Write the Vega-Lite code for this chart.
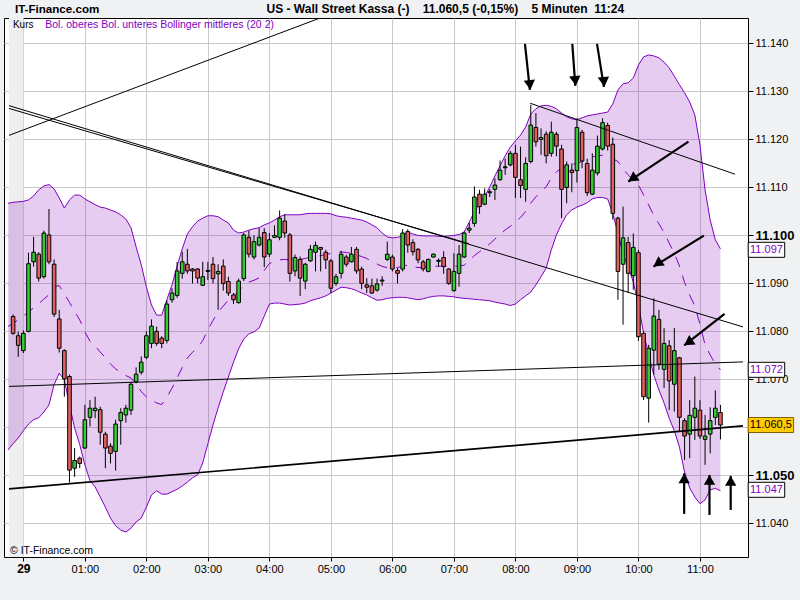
{
"$schema":"https://vega.github.io/schema/vega-lite/v6.json",
"width":744,"height":539,"autosize":"none",
"padding":{"left":4,"top":18,"right":52,"bottom":43},
"background":"#f0f1f3",
"config":{"font":"Liberation Sans","view":{"fill":"white","stroke":"black","strokeWidth":1}},
"datasets":{
"candles":[
{"time":"2010/10/28 23:50","open":11083.1,"high":11083.5,"low":11079.3,"close":11079.6},
{"time":"2010/10/28 23:55","open":11079.1,"high":11080,"low":11074.7,"close":11077.1},
{"time":"2010/10/29 00:00","open":11076,"high":11080.2,"low":11075.5,"close":11079.6},
{"time":"2010/10/29 00:05","open":11080,"high":11096.4,"low":11079.8,"close":11094.1},
{"time":"2010/10/29 00:10","open":11094.5,"high":11099.7,"low":11093.5,"close":11096.5},
{"time":"2010/10/29 00:15","open":11096.1,"high":11096.5,"low":11090.4,"close":11091.1},
{"time":"2010/10/29 00:20","open":11091.4,"high":11101,"low":11091,"close":11100.5},
{"time":"2010/10/29 00:25","open":11100.1,"high":11105.5,"low":11094,"close":11094.5},
{"time":"2010/10/29 00:30","open":11094,"high":11095,"low":11083,"close":11083.6},
{"time":"2010/10/29 00:35","open":11082.6,"high":11084.5,"low":11075.6,"close":11076.5},
{"time":"2010/10/29 00:40","open":11076,"high":11076.3,"low":11066.4,"close":11070.1},
{"time":"2010/10/29 00:45","open":11070.6,"high":11071,"low":11048.5,"close":11051.1},
{"time":"2010/10/29 00:50","open":11051.5,"high":11055.7,"low":11049.7,"close":11053.1},
{"time":"2010/10/29 00:55","open":11053.6,"high":11053.9,"low":11051.5,"close":11052.5},
{"time":"2010/10/29 01:00","open":11055.7,"high":11064.7,"low":11055.5,"close":11061.6},
{"time":"2010/10/29 01:05","open":11062.1,"high":11065.7,"low":11060.2,"close":11064},
{"time":"2010/10/29 01:10","open":11063.5,"high":11066.4,"low":11061.9,"close":11064},
{"time":"2010/10/29 01:15","open":11063.7,"high":11064.3,"low":11056.4,"close":11059},
{"time":"2010/10/29 01:20","open":11058.6,"high":11059.1,"low":11051.5,"close":11055.7},
{"time":"2010/10/29 01:25","open":11056.1,"high":11056.7,"low":11052.5,"close":11054.6},
{"time":"2010/10/29 01:30","open":11055,"high":11061.6,"low":11051,"close":11060.7},
{"time":"2010/10/29 01:35","open":11061.4,"high":11064,"low":11056.4,"close":11063.1},
{"time":"2010/10/29 01:40","open":11062.6,"high":11064.7,"low":11061,"close":11064},
{"time":"2010/10/29 01:45","open":11063.6,"high":11069.5,"low":11062.6,"close":11069},
{"time":"2010/10/29 01:50","open":11069.5,"high":11072.5,"low":11069.2,"close":11071.1},
{"time":"2010/10/29 01:55","open":11071.5,"high":11074.8,"low":11071,"close":11073.6},
{"time":"2010/10/29 02:00","open":11074.6,"high":11080,"low":11074.2,"close":11079.1},
{"time":"2010/10/29 02:05","open":11077.5,"high":11082.5,"low":11076.5,"close":11081.1},
{"time":"2010/10/29 02:10","open":11080,"high":11081,"low":11077,"close":11077.5},
{"time":"2010/10/29 02:15","open":11078.6,"high":11079,"low":11076.5,"close":11077.5},
{"time":"2010/10/29 02:20","open":11078.1,"high":11086.5,"low":11077.5,"close":11085.7},
{"time":"2010/10/29 02:25","open":11086.6,"high":11089,"low":11086,"close":11088},
{"time":"2010/10/29 02:30","open":11087.5,"high":11094.5,"low":11087,"close":11092.6},
{"time":"2010/10/29 02:35","open":11092.1,"high":11096.6,"low":11091,"close":11094.5},
{"time":"2010/10/29 02:40","open":11094,"high":11097.2,"low":11092,"close":11092.6},
{"time":"2010/10/29 02:45","open":11093,"high":11093.2,"low":11090,"close":11092.6},
{"time":"2010/10/29 02:50","open":11093,"high":11093.2,"low":11090,"close":11091.1},
{"time":"2010/10/29 02:55","open":11089.6,"high":11094.5,"low":11089.5,"close":11091.4},
{"time":"2010/10/29 03:00","open":11092.5,"high":11094.5,"low":11090.7,"close":11092.7},
{"time":"2010/10/29 03:05","open":11094,"high":11095.5,"low":11090,"close":11091},
{"time":"2010/10/29 03:10","open":11092,"high":11094,"low":11084.5,"close":11092.5},
{"time":"2010/10/29 03:15","open":11093.6,"high":11095,"low":11088.5,"close":11090},
{"time":"2010/10/29 03:20","open":11090.4,"high":11091.4,"low":11087.4,"close":11088},
{"time":"2010/10/29 03:25","open":11087.6,"high":11088,"low":11085.7,"close":11086.6},
{"time":"2010/10/29 03:30","open":11086,"high":11091,"low":11085.8,"close":11090.5},
{"time":"2010/10/29 03:35","open":11091,"high":11100.5,"low":11090.5,"close":11100.1},
{"time":"2010/10/29 03:40","open":11099.6,"high":11101,"low":11095.4,"close":11096.1},
{"time":"2010/10/29 03:45","open":11095.5,"high":11100,"low":11095,"close":11098.7},
{"time":"2010/10/29 03:50","open":11098,"high":11101.5,"low":11097.7,"close":11099.6},
{"time":"2010/10/29 03:55","open":11100.6,"high":11101.5,"low":11093.4,"close":11095.5},
{"time":"2010/10/29 04:00","open":11096.1,"high":11100.5,"low":11095.5,"close":11099.1},
{"time":"2010/10/29 04:05","open":11099.6,"high":11102.1,"low":11099.5,"close":11100},
{"time":"2010/10/29 04:10","open":11099.6,"high":11105.2,"low":11099,"close":11103.6},
{"time":"2010/10/29 04:15","open":11103,"high":11104.4,"low":11099.5,"close":11100.5},
{"time":"2010/10/29 04:20","open":11100.1,"high":11100.5,"low":11090.4,"close":11092.1},
{"time":"2010/10/29 04:25","open":11092.6,"high":11096,"low":11091.5,"close":11095.4},
{"time":"2010/10/29 04:30","open":11095,"high":11095.6,"low":11087.4,"close":11091.1},
{"time":"2010/10/29 04:35","open":11090.5,"high":11094.3,"low":11088.8,"close":11094},
{"time":"2010/10/29 04:40","open":11094.7,"high":11098,"low":11094.5,"close":11097.1},
{"time":"2010/10/29 04:45","open":11096.5,"high":11098.7,"low":11092.5,"close":11097.9},
{"time":"2010/10/29 04:50","open":11097.5,"high":11097.6,"low":11092.5,"close":11097.1},
{"time":"2010/10/29 04:55","open":11096.5,"high":11097,"low":11093,"close":11094.9},
{"time":"2010/10/29 05:00","open":11094.7,"high":11095.1,"low":11088,"close":11089},
{"time":"2010/10/29 05:05","open":11090,"high":11092,"low":11089.5,"close":11091.4},
{"time":"2010/10/29 05:10","open":11092.1,"high":11096.8,"low":11091,"close":11096.1},
{"time":"2010/10/29 05:15","open":11095.5,"high":11096,"low":11093.5,"close":11094},
{"time":"2010/10/29 05:20","open":11094.5,"high":11097.6,"low":11094.4,"close":11096.1},
{"time":"2010/10/29 05:25","open":11097.1,"high":11097.6,"low":11092,"close":11092.6},
{"time":"2010/10/29 05:30","open":11093,"high":11093.5,"low":11088.8,"close":11090},
{"time":"2010/10/29 05:35","open":11089.7,"high":11091.1,"low":11088,"close":11089.2},
{"time":"2010/10/29 05:40","open":11089.5,"high":11091,"low":11087.8,"close":11088},
{"time":"2010/10/29 05:45","open":11088.6,"high":11091,"low":11088.3,"close":11089.9},
{"time":"2010/10/29 05:50","open":11090.5,"high":11091.5,"low":11089.5,"close":11090.7},
{"time":"2010/10/29 05:55","open":11095,"high":11098.7,"low":11094.7,"close":11096.1},
{"time":"2010/10/29 06:00","open":11095.5,"high":11096,"low":11092.5,"close":11093},
{"time":"2010/10/29 06:05","open":11092.7,"high":11093.2,"low":11090,"close":11092.1},
{"time":"2010/10/29 06:10","open":11093,"high":11101.3,"low":11092.5,"close":11100.5},
{"time":"2010/10/29 06:15","open":11100.8,"high":11101.3,"low":11096.4,"close":11098},
{"time":"2010/10/29 06:20","open":11098.5,"high":11099.2,"low":11095.8,"close":11096.6},
{"time":"2010/10/29 06:25","open":11097.1,"high":11097.4,"low":11094.2,"close":11094.9},
{"time":"2010/10/29 06:30","open":11094.5,"high":11094.9,"low":11092.5,"close":11093},
{"time":"2010/10/29 06:35","open":11092.5,"high":11095.2,"low":11092.3,"close":11095},
{"time":"2010/10/29 06:40","open":11095.5,"high":11096.2,"low":11095.4,"close":11096.1},
{"time":"2010/10/29 06:45","open":11094.6,"high":11095.2,"low":11093.5,"close":11094.8},
{"time":"2010/10/29 06:50","open":11095.4,"high":11096.7,"low":11092,"close":11093.5},
{"time":"2010/10/29 06:55","open":11093,"high":11093.2,"low":11089.7,"close":11090},
{"time":"2010/10/29 07:00","open":11088.5,"high":11096.3,"low":11088.3,"close":11092.5},
{"time":"2010/10/29 07:05","open":11092.1,"high":11098,"low":11089.3,"close":11096.1},
{"time":"2010/10/29 07:10","open":11095.5,"high":11100.8,"low":11095.3,"close":11100.5},
{"time":"2010/10/29 07:15","open":11101.1,"high":11102.6,"low":11100.5,"close":11101.5},
{"time":"2010/10/29 07:20","open":11102.5,"high":11110.2,"low":11101.8,"close":11108},
{"time":"2010/10/29 07:25","open":11108.6,"high":11109.5,"low":11104.5,"close":11106},
{"time":"2010/10/29 07:30","open":11106.5,"high":11109.8,"low":11106.3,"close":11108.6},
{"time":"2010/10/29 07:35","open":11108.9,"high":11109.6,"low":11108,"close":11109.1},
{"time":"2010/10/29 07:40","open":11109.6,"high":11111.9,"low":11107.4,"close":11110.5},
{"time":"2010/10/29 07:45","open":11111.6,"high":11115.6,"low":11111.4,"close":11113.6},
{"time":"2010/10/29 07:50","open":11114.1,"high":11116,"low":11112.6,"close":11114.3},
{"time":"2010/10/29 07:55","open":11114.7,"high":11117.6,"low":11114.4,"close":11117.1},
{"time":"2010/10/29 08:00","open":11117.1,"high":11118.9,"low":11107.8,"close":11112.1},
{"time":"2010/10/29 08:05","open":11111.6,"high":11118.5,"low":11107.8,"close":11110.4},
{"time":"2010/10/29 08:10","open":11109.6,"high":11116.3,"low":11107,"close":11115},
{"time":"2010/10/29 08:15","open":11115.4,"high":11127.2,"low":11115,"close":11123},
{"time":"2010/10/29 08:20","open":11122.5,"high":11125.5,"low":11118.5,"close":11119.5},
{"time":"2010/10/29 08:25","open":11120,"high":11122.3,"low":11116.8,"close":11120.4},
{"time":"2010/10/29 08:30","open":11121.1,"high":11121.7,"low":11115,"close":11116.6},
{"time":"2010/10/29 08:35","open":11117.1,"high":11123.7,"low":11116.4,"close":11121.5},
{"time":"2010/10/29 08:40","open":11121.1,"high":11121.6,"low":11116.5,"close":11118.6},
{"time":"2010/10/29 08:45","open":11118,"high":11118.9,"low":11103.6,"close":11109.6},
{"time":"2010/10/29 08:50","open":11110,"high":11115.4,"low":11106.7,"close":11114.7},
{"time":"2010/10/29 08:55","open":11113.6,"high":11115,"low":11109,"close":11113.1},
{"time":"2010/10/29 09:00","open":11113.5,"high":11124.4,"low":11111,"close":11122.5},
{"time":"2010/10/29 09:05","open":11121.5,"high":11122,"low":11114,"close":11115.5},
{"time":"2010/10/29 09:10","open":11115,"high":11116,"low":11108.2,"close":11108.9},
{"time":"2010/10/29 09:15","open":11108.6,"high":11117.1,"low":11108.4,"close":11113.6},
{"time":"2010/10/29 09:20","open":11113,"high":11120.8,"low":11112.5,"close":11118.6},
{"time":"2010/10/29 09:25","open":11118,"high":11124.4,"low":11117.7,"close":11123.5},
{"time":"2010/10/29 09:30","open":11122.9,"high":11123.5,"low":11117.7,"close":11118.6},
{"time":"2010/10/29 09:35","open":11119,"high":11120.4,"low":11103.3,"close":11104.6},
{"time":"2010/10/29 09:40","open":11103.6,"high":11103.9,"low":11086.6,"close":11092.5},
{"time":"2010/10/29 09:45","open":11094,"high":11106,"low":11081.4,"close":11099.5},
{"time":"2010/10/29 09:50","open":11098.5,"high":11099.7,"low":11088,"close":11092.1},
{"time":"2010/10/29 09:55","open":11091.6,"high":11100.4,"low":11088.7,"close":11097.5},
{"time":"2010/10/29 10:00","open":11096.4,"high":11097,"low":11078,"close":11078.9},
{"time":"2010/10/29 10:05","open":11079.6,"high":11080,"low":11065.7,"close":11066.4},
{"time":"2010/10/29 10:10","open":11066.1,"high":11077.2,"low":11061,"close":11076.5},
{"time":"2010/10/29 10:15","open":11076.1,"high":11086.9,"low":11071,"close":11083.2},
{"time":"2010/10/29 10:20","open":11082.5,"high":11084.5,"low":11072,"close":11073.2},
{"time":"2010/10/29 10:25","open":11072.1,"high":11080.7,"low":11068.2,"close":11077.5},
{"time":"2010/10/29 10:30","open":11077,"high":11078.2,"low":11063.6,"close":11069.7},
{"time":"2010/10/29 10:35","open":11069,"high":11080.7,"low":11063.3,"close":11076},
{"time":"2010/10/29 10:40","open":11074.5,"high":11074.7,"low":11059.1,"close":11062.1},
{"time":"2010/10/29 10:45","open":11061.4,"high":11061.9,"low":11053.2,"close":11058.2},
{"time":"2010/10/29 10:50","open":11058.6,"high":11065.7,"low":11053.6,"close":11062.5},
{"time":"2010/10/29 10:55","open":11062.1,"high":11070.6,"low":11057.4,"close":11064},
{"time":"2010/10/29 11:00","open":11063.6,"high":11065.7,"low":11057.6,"close":11058.2},
{"time":"2010/10/29 11:05","open":11057.5,"high":11062.6,"low":11052.2,"close":11058.2},
{"time":"2010/10/29 11:10","open":11058.6,"high":11064.2,"low":11054.6,"close":11061.4},
{"time":"2010/10/29 11:15","open":11062.1,"high":11067.7,"low":11060.5,"close":11064},
{"time":"2010/10/29 11:20","open":11063.1,"high":11064.7,"low":11057.5,"close":11060.5}
],
"bands":[
{"time":"2010/10/28 23:45","upper":11106.7,"lower":11055.3,"middle":11081},
{"time":"2010/10/28 23:50","upper":11106.9,"lower":11056.6,"middle":11081.75},
{"time":"2010/10/28 23:55","upper":11107,"lower":11057.8,"middle":11082.4},
{"time":"2010/10/29 00:00","upper":11107.1,"lower":11059.3,"middle":11083.2},
{"time":"2010/10/29 00:05","upper":11107.4,"lower":11060.7,"middle":11084.05},
{"time":"2010/10/29 00:10","upper":11108.2,"lower":11061.6,"middle":11084.9},
{"time":"2010/10/29 00:15","upper":11109.5,"lower":11062,"middle":11085.75},
{"time":"2010/10/29 00:20","upper":11110.3,"lower":11063.2,"middle":11086.75},
{"time":"2010/10/29 00:25","upper":11110.6,"lower":11064.7,"middle":11087.65},
{"time":"2010/10/29 00:30","upper":11109.7,"lower":11068.9,"middle":11089.3},
{"time":"2010/10/29 00:35","upper":11107.8,"lower":11071.3,"middle":11089.55},
{"time":"2010/10/29 00:40","upper":11105.7,"lower":11069.9,"middle":11087.8},
{"time":"2010/10/29 00:45","upper":11107.4,"lower":11064.7,"middle":11086.05},
{"time":"2010/10/29 00:50","upper":11108.4,"lower":11059.9,"middle":11084.15},
{"time":"2010/10/29 00:55","upper":11108.4,"lower":11056.4,"middle":11082.4},
{"time":"2010/10/29 01:00","upper":11107.6,"lower":11052.2,"middle":11079.9},
{"time":"2010/10/29 01:05","upper":11107,"lower":11048.9,"middle":11077.95},
{"time":"2010/10/29 01:10","upper":11106.4,"lower":11047.6,"middle":11077},
{"time":"2010/10/29 01:15","upper":11105.9,"lower":11045.5,"middle":11075.7},
{"time":"2010/10/29 01:20","upper":11105.7,"lower":11043.4,"middle":11074.55},
{"time":"2010/10/29 01:25","upper":11105.3,"lower":11041.1,"middle":11073.2},
{"time":"2010/10/29 01:30","upper":11104.9,"lower":11039.5,"middle":11072.2},
{"time":"2010/10/29 01:35","upper":11104.3,"lower":11038.6,"middle":11071.45},
{"time":"2010/10/29 01:40","upper":11103.4,"lower":11038.2,"middle":11070.8},
{"time":"2010/10/29 01:45","upper":11101.6,"lower":11039,"middle":11070.3},
{"time":"2010/10/29 01:50","upper":11097.6,"lower":11040.3,"middle":11068.95},
{"time":"2010/10/29 01:55","upper":11093.9,"lower":11041.1,"middle":11067.5},
{"time":"2010/10/29 02:00","upper":11089.3,"lower":11043.4,"middle":11066.35},
{"time":"2010/10/29 02:05","upper":11085.5,"lower":11045.9,"middle":11065.7},
{"time":"2010/10/29 02:10","upper":11083.4,"lower":11046.8,"middle":11065.1},
{"time":"2010/10/29 02:15","upper":11083.4,"lower":11046.1,"middle":11064.75},
{"time":"2010/10/29 02:20","upper":11086.6,"lower":11046.1,"middle":11066.35},
{"time":"2010/10/29 02:25","upper":11089.7,"lower":11046.6,"middle":11068.15},
{"time":"2010/10/29 02:30","upper":11093.6,"lower":11047.1,"middle":11070.35},
{"time":"2010/10/29 02:35","upper":11097.2,"lower":11047.8,"middle":11072.5},
{"time":"2010/10/29 02:40","upper":11100.3,"lower":11048.6,"middle":11074.45},
{"time":"2010/10/29 02:45","upper":11101.8,"lower":11049.5,"middle":11075.65},
{"time":"2010/10/29 02:50","upper":11103,"lower":11050.1,"middle":11076.55},
{"time":"2010/10/29 02:55","upper":11103.6,"lower":11052.6,"middle":11078.1},
{"time":"2010/10/29 03:00","upper":11104.1,"lower":11056.6,"middle":11080.35},
{"time":"2010/10/29 03:05","upper":11104.1,"lower":11060.5,"middle":11082.3},
{"time":"2010/10/29 03:10","upper":11103.9,"lower":11064.1,"middle":11084},
{"time":"2010/10/29 03:15","upper":11103.2,"lower":11067.4,"middle":11085.3},
{"time":"2010/10/29 03:20","upper":11102.6,"lower":11070.5,"middle":11086.55},
{"time":"2010/10/29 03:25","upper":11101.1,"lower":11073.6,"middle":11087.35},
{"time":"2010/10/29 03:30","upper":11100.5,"lower":11076.4,"middle":11088.45},
{"time":"2010/10/29 03:35","upper":11100.7,"lower":11078.4,"middle":11089.55},
{"time":"2010/10/29 03:40","upper":11101.1,"lower":11079.5,"middle":11090.3},
{"time":"2010/10/29 03:45","upper":11101.4,"lower":11079.9,"middle":11090.65},
{"time":"2010/10/29 03:50","upper":11101.6,"lower":11080.7,"middle":11091.15},
{"time":"2010/10/29 03:55","upper":11102.2,"lower":11083.2,"middle":11092.7},
{"time":"2010/10/29 04:00","upper":11102.6,"lower":11085.7,"middle":11094.15},
{"time":"2010/10/29 04:05","upper":11103.2,"lower":11085.9,"middle":11094.55},
{"time":"2010/10/29 04:10","upper":11103.9,"lower":11085.9,"middle":11094.9},
{"time":"2010/10/29 04:15","upper":11104.3,"lower":11085.7,"middle":11095},
{"time":"2010/10/29 04:20","upper":11104.3,"lower":11085.5,"middle":11094.9},
{"time":"2010/10/29 04:25","upper":11104.3,"lower":11085.6,"middle":11094.95},
{"time":"2010/10/29 04:30","upper":11104.3,"lower":11085.7,"middle":11095},
{"time":"2010/10/29 04:35","upper":11104.5,"lower":11085.9,"middle":11095.2},
{"time":"2010/10/29 04:40","upper":11104.6,"lower":11086.4,"middle":11095.5},
{"time":"2010/10/29 04:45","upper":11104.6,"lower":11086.7,"middle":11095.65},
{"time":"2010/10/29 04:50","upper":11104.6,"lower":11087,"middle":11095.8},
{"time":"2010/10/29 04:55","upper":11104.6,"lower":11087.4,"middle":11096},
{"time":"2010/10/29 05:00","upper":11104.5,"lower":11088,"middle":11096.25},
{"time":"2010/10/29 05:05","upper":11104.1,"lower":11088.6,"middle":11096.35},
{"time":"2010/10/29 05:10","upper":11103.9,"lower":11089.2,"middle":11096.55},
{"time":"2010/10/29 05:15","upper":11103.8,"lower":11089.1,"middle":11096.45},
{"time":"2010/10/29 05:20","upper":11103.6,"lower":11088.9,"middle":11096.25},
{"time":"2010/10/29 05:25","upper":11103.4,"lower":11088.5,"middle":11095.95},
{"time":"2010/10/29 05:30","upper":11103.2,"lower":11088,"middle":11095.6},
{"time":"2010/10/29 05:35","upper":11102.8,"lower":11087.6,"middle":11095.2},
{"time":"2010/10/29 05:40","upper":11102.2,"lower":11087,"middle":11094.6},
{"time":"2010/10/29 05:45","upper":11101.6,"lower":11086.5,"middle":11094.05},
{"time":"2010/10/29 05:50","upper":11100.5,"lower":11086.6,"middle":11093.55},
{"time":"2010/10/29 05:55","upper":11099.7,"lower":11086.9,"middle":11093.3},
{"time":"2010/10/29 06:00","upper":11099.5,"lower":11087,"middle":11093.25},
{"time":"2010/10/29 06:05","upper":11099.6,"lower":11087.1,"middle":11093.35},
{"time":"2010/10/29 06:10","upper":11099.9,"lower":11087.1,"middle":11093.5},
{"time":"2010/10/29 06:15","upper":11100.7,"lower":11087,"middle":11093.85},
{"time":"2010/10/29 06:20","upper":11100.3,"lower":11086.8,"middle":11093.55},
{"time":"2010/10/29 06:25","upper":11100,"lower":11086.6,"middle":11093.3},
{"time":"2010/10/29 06:30","upper":11099.9,"lower":11086.8,"middle":11093.35},
{"time":"2010/10/29 06:35","upper":11099.9,"lower":11087.1,"middle":11093.5},
{"time":"2010/10/29 06:40","upper":11099.9,"lower":11087.3,"middle":11093.6},
{"time":"2010/10/29 06:45","upper":11099.8,"lower":11087.4,"middle":11093.6},
{"time":"2010/10/29 06:50","upper":11099.8,"lower":11087.4,"middle":11093.6},
{"time":"2010/10/29 06:55","upper":11099.9,"lower":11087.3,"middle":11093.6},
{"time":"2010/10/29 07:00","upper":11100,"lower":11087.2,"middle":11093.6},
{"time":"2010/10/29 07:05","upper":11100.2,"lower":11087,"middle":11093.6},
{"time":"2010/10/29 07:10","upper":11100.7,"lower":11086.9,"middle":11093.8},
{"time":"2010/10/29 07:15","upper":11102.8,"lower":11086.8,"middle":11094.8},
{"time":"2010/10/29 07:20","upper":11104.9,"lower":11086.7,"middle":11095.8},
{"time":"2010/10/29 07:25","upper":11106.6,"lower":11086.6,"middle":11096.6},
{"time":"2010/10/29 07:30","upper":11108.2,"lower":11086.5,"middle":11097.35},
{"time":"2010/10/29 07:35","upper":11110.1,"lower":11086.4,"middle":11098.25},
{"time":"2010/10/29 07:40","upper":11112.4,"lower":11086.1,"middle":11099.25},
{"time":"2010/10/29 07:45","upper":11114.5,"lower":11085.9,"middle":11100.2},
{"time":"2010/10/29 07:50","upper":11116.6,"lower":11085.7,"middle":11101.15},
{"time":"2010/10/29 07:55","upper":11118.4,"lower":11085.4,"middle":11101.9},
{"time":"2010/10/29 08:00","upper":11119.7,"lower":11085.7,"middle":11102.7},
{"time":"2010/10/29 08:05","upper":11120.9,"lower":11086.6,"middle":11103.75},
{"time":"2010/10/29 08:10","upper":11122.6,"lower":11087.4,"middle":11105},
{"time":"2010/10/29 08:15","upper":11125.3,"lower":11088.2,"middle":11106.75},
{"time":"2010/10/29 08:20","upper":11126.4,"lower":11089.7,"middle":11108.05},
{"time":"2010/10/29 08:25","upper":11127,"lower":11091.4,"middle":11109.2},
{"time":"2010/10/29 08:30","upper":11127.1,"lower":11093.2,"middle":11110.15},
{"time":"2010/10/29 08:35","upper":11126.9,"lower":11097,"middle":11111.95},
{"time":"2010/10/29 08:40","upper":11126.4,"lower":11100.1,"middle":11113.25},
{"time":"2010/10/29 08:45","upper":11125.5,"lower":11102.4,"middle":11113.95},
{"time":"2010/10/29 08:50","upper":11124.7,"lower":11104.3,"middle":11114.5},
{"time":"2010/10/29 08:55","upper":11124.3,"lower":11105.3,"middle":11114.8},
{"time":"2010/10/29 09:00","upper":11124.1,"lower":11105.9,"middle":11115},
{"time":"2010/10/29 09:05","upper":11124.5,"lower":11106.3,"middle":11115.4},
{"time":"2010/10/29 09:10","upper":11124.9,"lower":11106.8,"middle":11115.85},
{"time":"2010/10/29 09:15","upper":11125.1,"lower":11107.6,"middle":11116.35},
{"time":"2010/10/29 09:20","upper":11125.3,"lower":11107.9,"middle":11116.6},
{"time":"2010/10/29 09:25","upper":11125.5,"lower":11107.9,"middle":11116.7},
{"time":"2010/10/29 09:30","upper":11125.7,"lower":11107.6,"middle":11116.65},
{"time":"2010/10/29 09:35","upper":11127.4,"lower":11104.5,"middle":11115.95},
{"time":"2010/10/29 09:40","upper":11130.3,"lower":11100.5,"middle":11115.4},
{"time":"2010/10/29 09:45","upper":11131.6,"lower":11096.1,"middle":11113.85},
{"time":"2010/10/29 09:50","upper":11131.8,"lower":11093.4,"middle":11112.6},
{"time":"2010/10/29 09:55","upper":11132.8,"lower":11090.3,"middle":11111.55},
{"time":"2010/10/29 10:00","upper":11135.5,"lower":11085.5,"middle":11110.5},
{"time":"2010/10/29 10:05","upper":11137.2,"lower":11079.7,"middle":11108.45},
{"time":"2010/10/29 10:10","upper":11137.6,"lower":11075.1,"middle":11106.35},
{"time":"2010/10/29 10:15","upper":11137.4,"lower":11070.9,"middle":11104.15},
{"time":"2010/10/29 10:20","upper":11137,"lower":11067.8,"middle":11102.4},
{"time":"2010/10/29 10:25","upper":11136.1,"lower":11065.1,"middle":11100.6},
{"time":"2010/10/29 10:30","upper":11134.9,"lower":11061.9,"middle":11098.4},
{"time":"2010/10/29 10:35","upper":11133.2,"lower":11059.3,"middle":11096.25},
{"time":"2010/10/29 10:40","upper":11131.4,"lower":11055.9,"middle":11093.65},
{"time":"2010/10/29 10:45","upper":11129.7,"lower":11050.7,"middle":11090.2},
{"time":"2010/10/29 10:50","upper":11127.8,"lower":11047.4,"middle":11087.6},
{"time":"2010/10/29 10:55","upper":11125.1,"lower":11045.5,"middle":11085.3},
{"time":"2010/10/29 11:00","upper":11118.9,"lower":11044.1,"middle":11081.5},
{"time":"2010/10/29 11:05","upper":11109.5,"lower":11044.9,"middle":11077.2},
{"time":"2010/10/29 11:10","upper":11103.2,"lower":11047,"middle":11075.1},
{"time":"2010/10/29 11:15","upper":11099.1,"lower":11047.3,"middle":11073.2},
{"time":"2010/10/29 11:20","upper":11097.2,"lower":11046.8,"middle":11072}
],
"trendlines":[
{"name":"S1","t1":"2010/10/28 23:46:00","v1":11120.85,"t2":"2010/10/29 05:00:00","v2":11146.15},
{"name":"A","t1":"2010/10/28 23:46:00","v1":11127.04,"t2":"2010/10/29 11:42:00","v2":11080.94},
{"name":"B","t1":"2010/10/28 23:46:00","v1":11126.46,"t2":"2010/10/29 07:14:30","v2":11098.29},
{"name":"C","t1":"2010/10/29 08:14:24","v1":11127.54,"t2":"2010/10/29 11:34:18","v2":11112.75},
{"name":"D","t1":"2010/10/28 23:46:00","v1":11068.54,"t2":"2010/10/29 11:42:00","v2":11073.65},
{"name":"E","t1":"2010/10/28 23:46:00","v1":11047.19,"t2":"2010/10/29 11:42:00","v2":11060.31}
],
"arrows":[
{"dir":"down","t1":"2010/10/29 08:09:18","v1":11139.9,"t2":"2010/10/29 08:14:06","v2":11130.31},
{"dir":"down","t1":"2010/10/29 08:55:30","v1":11139.9,"t2":"2010/10/29 08:58:24","v2":11131.15},
{"dir":"down","t1":"2010/10/29 09:19:36","v1":11139.9,"t2":"2010/10/29 09:26:18","v2":11130.94},
{"dir":"diag","t1":"2010/10/29 10:48:48","v1":11119.54,"t2":"2010/10/29 09:50:06","v2":11111.21},
{"dir":"diag","t1":"2010/10/29 11:03:48","v1":11099.96,"t2":"2010/10/29 10:14:42","v2":11093.5},
{"dir":"diag","t1":"2010/10/29 11:24:00","v1":11083.65,"t2":"2010/10/29 10:44:42","v2":11077.08},
{"dir":"up","t1":"2010/10/29 10:44:36","v1":11041.98,"t2":"2010/10/29 10:44:36","v2":11050.42},
{"dir":"up","t1":"2010/10/29 11:09:18","v1":11041.77,"t2":"2010/10/29 11:09:18","v2":11050.1},
{"dir":"up","t1":"2010/10/29 11:30:00","v1":11042.81,"t2":"2010/10/29 11:30:00","v2":11049.9}
],
"prices":[
{"kind":"band","value":11097,"label":"11.097"},
{"kind":"band","value":11072,"label":"11.072"},
{"kind":"band","value":11047,"label":"11.047"},
{"kind":"last","value":11060.5,"label":"11.060,5"}
]
},
"layer":[
{"data":{"values":[{}]},
 "mark":{"type":"rect","fill":"#efefef"},
 "encoding":{
  "x":{"datum":{"year":2010,"month":10,"date":28,"hours":23,"minutes":46},"type":"temporal",
   "scale":{"domain":[{"year":2010,"month":10,"date":28,"hours":23,"minutes":46},{"year":2010,"month":10,"date":29,"hours":11,"minutes":42}],"nice":false},
   "axis":{"orient":"bottom","title":null,"domain":false,"grid":true,"gridColor":"#c8c8c8","tickColor":"black","tickSize":4,"labelPadding":2,"labelFlush":false,"labelOverlap":false,"labelColor":"black","labelFont":"Liberation Sans",
    "values":[{"year":2010,"month":10,"date":29,"hours":0},{"year":2010,"month":10,"date":29,"hours":1},{"year":2010,"month":10,"date":29,"hours":2},{"year":2010,"month":10,"date":29,"hours":3},{"year":2010,"month":10,"date":29,"hours":4},{"year":2010,"month":10,"date":29,"hours":5},{"year":2010,"month":10,"date":29,"hours":6},{"year":2010,"month":10,"date":29,"hours":7},{"year":2010,"month":10,"date":29,"hours":8},{"year":2010,"month":10,"date":29,"hours":9},{"year":2010,"month":10,"date":29,"hours":10},{"year":2010,"month":10,"date":29,"hours":11}],
    "labelExpr":"hours(datum.value) === 0 ? '29' : timeFormat(datum.value, '%H:%M')",
    "labelFontSize":{"condition":{"test":"hours(datum.value) === 0","value":12},"value":11},
    "labelFontWeight":{"condition":{"test":"hours(datum.value) === 0","value":"bold"},"value":"normal"}}},
  "x2":{"datum":{"year":2010,"month":10,"date":29,"hours":0}}
 }},
{"data":{"name":"bands"},
 "mark":{"type":"area","clip":true,"fill":"#8000b4","fillOpacity":0.2},
 "encoding":{
  "x":{"field":"time","type":"temporal"},
  "y":{"field":"upper","type":"quantitative",
   "scale":{"domain":[11033,11145.3],"nice":false,"zero":false},
   "axis":{"orient":"right","title":null,"domain":false,"grid":true,"gridColor":"#c8c8c8","tickColor":"black","tickSize":5,"labelPadding":2,"labelOverlap":false,"labelFlush":false,"labelColor":"black","labelFont":"Liberation Sans",
    "values":[11040,11050,11060,11070,11080,11090,11100,11110,11120,11130,11140],
    "labelExpr":"datum.value === 11060 ? '' : replace(format(datum.value, ','), ',', '.')",
    "labelFontSize":{"condition":{"test":"datum.value % 50 === 0","value":13},"value":11},
    "labelFontWeight":{"condition":{"test":"datum.value % 50 === 0","value":"bold"},"value":"normal"}}},
  "y2":{"field":"lower"}
 }},
{"data":{"name":"bands"},
 "mark":{"type":"line","clip":true,"color":"#8000c0","strokeWidth":1},
 "encoding":{"x":{"field":"time","type":"temporal"},"y":{"field":"upper","type":"quantitative"}}},
{"data":{"name":"bands"},
 "mark":{"type":"line","clip":true,"color":"#8000c0","strokeWidth":1},
 "encoding":{"x":{"field":"time","type":"temporal"},"y":{"field":"lower","type":"quantitative"}}},
{"data":{"name":"bands"},
 "mark":{"type":"line","clip":true,"color":"#8000c0","strokeWidth":1,"strokeDash":[11,9]},
 "encoding":{"x":{"field":"time","type":"temporal"},"y":{"field":"middle","type":"quantitative"}}},
{"data":{"name":"candles"},
 "mark":{"type":"rule","color":"black","strokeWidth":1},
 "encoding":{"x":{"field":"time","type":"temporal"},"y":{"field":"low","type":"quantitative"},"y2":{"field":"high"}}},
{"data":{"name":"candles"},
 "mark":{"type":"bar","size":3.6,"stroke":"black","strokeWidth":1},
 "encoding":{"x":{"field":"time","type":"temporal"},"y":{"field":"open","type":"quantitative"},"y2":{"field":"close"},
  "color":{"condition":{"test":"datum.close >= datum.open","value":"#33cc33"},"value":"#e06060"}}},
{"data":{"name":"trendlines"},
 "transform":[{"filter":"datum.name !== 'E'"}],
 "mark":{"type":"rule","clip":true,"color":"black","strokeWidth":1},
 "encoding":{"x":{"field":"t1","type":"temporal"},"x2":{"field":"t2"},"y":{"field":"v1","type":"quantitative"},"y2":{"field":"v2"}}},
{"data":{"name":"trendlines"},
 "transform":[{"filter":"datum.name === 'E'"}],
 "mark":{"type":"rule","clip":true,"color":"black","strokeWidth":1.6},
 "encoding":{"x":{"field":"t1","type":"temporal"},"x2":{"field":"t2"},"y":{"field":"v1","type":"quantitative"},"y2":{"field":"v2"}}},
{"data":{"name":"arrows"},
 "mark":{"type":"rule","color":"black","strokeWidth":2.2},
 "encoding":{"x":{"field":"t1","type":"temporal"},"x2":{"field":"t2"},"y":{"field":"v1","type":"quantitative"},"y2":{"field":"v2"}}},
{"data":{"name":"arrows"},
 "transform":[{"filter":"datum.dir === 'down'"}],
 "mark":{"type":"point","shape":"triangle-up","filled":true,"color":"black","opacity":1,"size":130,"angle":174,"yOffset":-5},
 "encoding":{"x":{"field":"t2","type":"temporal"},"y":{"field":"v2","type":"quantitative"}}},
{"data":{"name":"arrows"},
 "transform":[{"filter":"datum.dir === 'diag'"}],
 "mark":{"type":"point","shape":"triangle-up","filled":true,"color":"black","opacity":1,"size":130,"angle":236,"xOffset":4,"yOffset":-3},
 "encoding":{"x":{"field":"t2","type":"temporal"},"y":{"field":"v2","type":"quantitative"}}},
{"data":{"name":"arrows"},
 "transform":[{"filter":"datum.dir === 'up'"}],
 "mark":{"type":"point","shape":"triangle-up","filled":true,"color":"black","opacity":1,"size":130,"angle":0,"yOffset":5},
 "encoding":{"x":{"field":"t2","type":"temporal"},"y":{"field":"v2","type":"quantitative"}}},
{"data":{"values":[{}]},
 "mark":{"type":"text","text":"Kurs","align":"left","baseline":"middle","fontSize":10,"color":"black"},
 "encoding":{"x":{"datum":{"year":2010,"month":10,"date":28,"hours":23,"minutes":49,"seconds":51},"type":"temporal"},"y":{"datum":11143.85,"type":"quantitative"}}},
{"data":{"values":[{}]},
 "mark":{"type":"text","text":"Bol. oberes Bol. unteres Bollinger mittleres (20 2)","align":"left","baseline":"middle","fontSize":10.5,"color":"#8000c0"},
 "encoding":{"x":{"datum":{"year":2010,"month":10,"date":29,"hours":0,"minutes":21,"seconds":18},"type":"temporal"},"y":{"datum":11143.85,"type":"quantitative"}}},
{"data":{"values":[{}]},
 "mark":{"type":"text","text":"© IT-Finance.com","align":"left","baseline":"middle","fontSize":10.5,"color":"black"},
 "encoding":{"x":{"datum":{"year":2010,"month":10,"date":28,"hours":23,"minutes":46,"seconds":58},"type":"temporal"},"y":{"datum":11034.27,"type":"quantitative"}}},
{"data":{"values":[{}]},
 "mark":{"type":"text","text":"IT-Finance.com","align":"left","baseline":"alphabetic","fontSize":11.6,"fontWeight":"bold","color":"black"},
 "encoding":{"x":{"datum":{"year":2010,"month":10,"date":28,"hours":23,"minutes":51,"seconds":46},"type":"temporal"},"y":{"datum":11146.29,"type":"quantitative"}}},
{"data":{"values":[{}]},
 "mark":{"type":"text","text":"US - Wall Street Kassa (-)\u00a0\u00a0\u00a0\u00a011.060,5 (-0,15%)\u00a0\u00a0\u00a0\u00a05 Minuten\u00a0\u00a011:24","align":"left","baseline":"alphabetic","fontSize":12,"fontWeight":"bold","color":"black"},
 "encoding":{"x":{"datum":{"year":2010,"month":10,"date":29,"hours":3,"minutes":57,"seconds":11},"type":"temporal"},"y":{"datum":11146.29,"type":"quantitative"}}},
{"data":{"name":"prices"},
 "transform":[{"filter":"datum.kind === 'band'"}],
 "mark":{"type":"point","shape":"M-1,-0.411H1V0.411H-1Z","size":1332,"filled":true,"fill":"white","stroke":"black","strokeWidth":1,"opacity":1},
 "encoding":{"x":{"datum":{"year":2010,"month":10,"date":29,"hours":12,"minutes":4,"seconds":52},"type":"temporal"},"y":{"field":"value","type":"quantitative"}}},
{"data":{"name":"prices"},
 "transform":[{"filter":"datum.kind === 'band'"}],
 "mark":{"type":"text","align":"center","baseline":"middle","fontSize":11,"color":"#8000c0"},
 "encoding":{"x":{"datum":{"year":2010,"month":10,"date":29,"hours":12,"minutes":4,"seconds":52},"type":"temporal"},"y":{"field":"value","type":"quantitative"},"text":{"field":"label"}}},
{"data":{"name":"prices"},
 "transform":[{"filter":"datum.kind === 'last'"}],
 "mark":{"type":"point","shape":"M-1,-0.33H1V0.33H-1Z","size":2070,"filled":true,"fill":"#ffcc00","stroke":"#806000","strokeWidth":1,"opacity":1},
 "encoding":{"x":{"datum":{"year":2010,"month":10,"date":29,"hours":12,"minutes":9,"seconds":11},"type":"temporal"},"y":{"field":"value","type":"quantitative"}}},
{"data":{"name":"prices"},
 "transform":[{"filter":"datum.kind === 'last'"}],
 "mark":{"type":"text","align":"center","baseline":"middle","fontSize":11,"color":"black"},
 "encoding":{"x":{"datum":{"year":2010,"month":10,"date":29,"hours":12,"minutes":9,"seconds":11},"type":"temporal"},"y":{"field":"value","type":"quantitative"},"text":{"field":"label"}}}
]
}
